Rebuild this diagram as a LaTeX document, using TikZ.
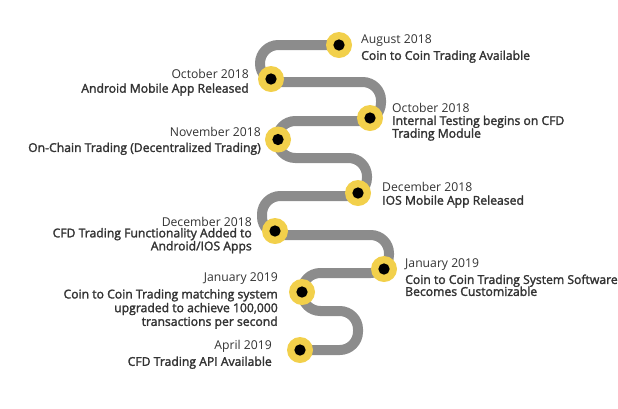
\documentclass[tikz,border=0pt]{standalone}
\usepackage{fontspec}
\setmainfont{Open Sans}
\newfontfamily\descfont{Open Sans}[FakeBold=2]
\usetikzlibrary{backgrounds}
\definecolor{roadgray}{HTML}{8C8C8C}
\definecolor{pinyellow}{HTML}{F2D04B}
\definecolor{labeltext}{HTML}{333333}

\begin{document}
\begin{tikzpicture}[
    x=0.03cm, y=-0.03cm,
    font=\fontsize{10.4}{8.2}\selectfont,
    road/.style={
      draw=roadgray,
      line width=.3cm,
      rounded corners=.55cm
    },
    pin/.style={
      circle,
      fill=pinyellow,
      inner sep=0pt,
      minimum size=.78cm,
      path picture={\fill[black] (path picture bounding box.center) circle (.17cm);}
    },
    milestone/.style={inner sep=0pt, text=labeltext},
    rlab/.style={milestone, anchor=north west, align=left},
    llab/.style={milestone, anchor=north east, align=right}
  ]
    \useasboundingbox (0,0) rectangle (618,408);

    % pins along the road
    \node[pin] (aug18) at (339,45) {};
    \node[pin] (oct18a) at (271,79) {};
    \node[pin] (oct18b) at (370,118) {};
    \node[pin] (nov18) at (278,139.5) {};
    \node[pin] (dec18a) at (358,193) {};
    \node[pin] (dec18b) at (275,231) {};
    \node[pin] (jan19a) at (384,269) {};
    \node[pin] (jan19b) at (302,292) {};
    \node[pin] (apr19) at (300,350) {};

    \begin{scope}[on background layer]
      \draw[road] (aug18.center) -- (260,45) -- (260,82) -- (381,82)
        -- (381,121) -- (277,121) -- (277,158) -- (367,158)
        -- (367,196) -- (262,196) -- (262,235) -- (389,235)
        -- (389,273) -- (302,273) -- (302,311) -- (358,311)
        -- (358,350) -- (apr19.center);
    \end{scope}

    % labels
    \node[rlab] (aug18lab) at (361,34.5) {
      August 2018\\[2.5pt]
      \descfont Coin to Coin Trading Available
    };
    \node[llab] (oct18alab) at (249,69.5) {
      October 2018\\[3.5pt]
      \descfont Android Mobile App Released
    };
    \node[rlab] (oct18blab) at (392,103.5) {
      October 2018\\[2pt]
      \descfont Internal Testing begins on CFD\\[-.5pt]
      \descfont Trading Module
    };
    \node[llab] (nov18lab) at (261,127) {
      November 2018\\[5pt]
      \descfont On-Chain Trading (Decentralized Trading)
    };
    \node[rlab] (dec18alab) at (382,181.5) {
      December 2018\\[3.5pt]
      \descfont IOS Mobile App Released
    };
    \node[llab] (dec18blab) at (252,216.5) {
      December 2018\\[1.5pt]
      \descfont CFD Trading Functionality Added to\\[-.3pt]
      \descfont Android/IOS Apps
    };
    \node[rlab] (jan19alab) at (405,258.5) {
      January 2019\\[2.5pt]
      \descfont Coin to Coin Trading System Software\\[-1.2pt]
      \descfont Becomes Customizable
    };
    \node[llab] (jan19blab) at (278,272.5) {
      January 2019\\[3pt]
      \descfont Coin to Coin Trading matching system\\[.3pt]
      \descfont upgraded to achieve 100,000\\[.3pt]
      \descfont transactions per second
    };
    \node[llab] (apr19lab) at (272,339.5) {
      April 2019\\[3pt]
      \descfont CFD Trading API Available
    };
  \end{tikzpicture}
\end{document}
